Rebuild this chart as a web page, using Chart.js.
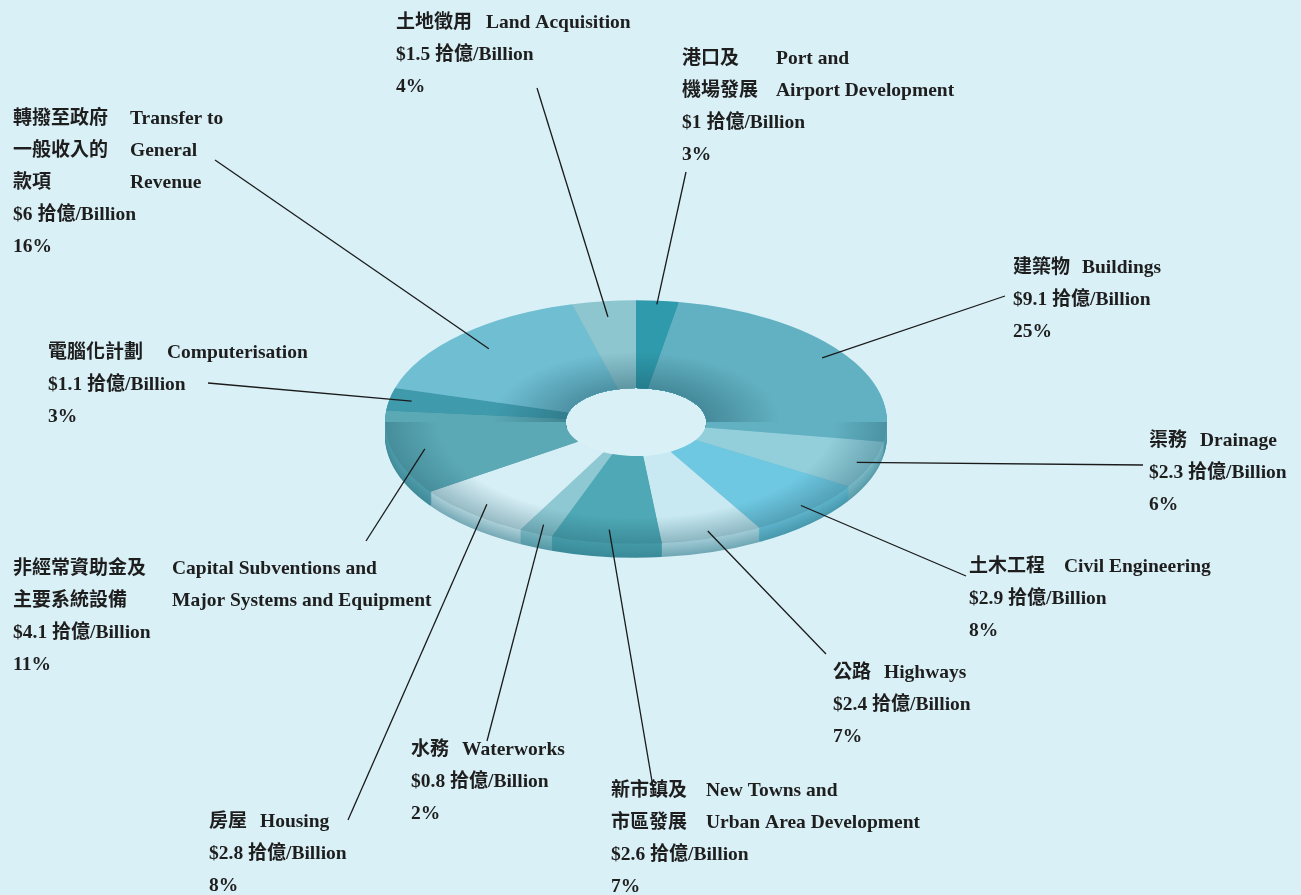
<!DOCTYPE html>
<html>
<head>
<meta charset="utf-8">
<title>Capital Works Expenditure</title>
<style>
  html, body { margin: 0; padding: 0; background: #d9f0f7; }
  #wrap { width: 1301px; height: 895px; position: relative; }
</style>
</head>
<body>
<div id="wrap"><canvas id="worksChart"></canvas></div>
<script src="https://cdn.jsdelivr.net/npm/chart.js@4.4.1/dist/chart.umd.min.js"></script>
<script>
// spending by head, $ billion, clockwise from 12 o'clock
const namesZh = [
  ["港口及", "機場發展"], ["建築物"], ["渠務"], ["土木工程"], ["公路"],
  ["新市鎮及", "市區發展"], ["水務"], ["房屋"], ["非經常資助金及", "主要系統設備"],
  ["電腦化計劃"], ["轉撥至政府", "一般收入的", "款項"], ["土地徵用"]
];
const namesEn = [
  ["Port and", "Airport Development"], ["Buildings"], ["Drainage"], ["Civil Engineering"], ["Highways"],
  ["New Towns and", "Urban Area Development"], ["Waterworks"], ["Housing"],
  ["Capital Subventions and", "Major Systems and Equipment"],
  ["Computerisation"], ["Transfer to", "General", "Revenue"], ["Land Acquisition"]
];
const amounts = [1, 9.1, 2.3, 2.9, 2.4, 2.6, 0.8, 2.8, 4.1, 1.1, 6, 1.5];

const sliceColors = [
  "#2e9aab", "#62b1c2", "#93cfdb", "#6fc8e2", "#c8e9f2", "#4ea8b5",
  "#8ec9d3", "#d6eef5", "#5ca9b6", "#3f9bac", "#70bed2", "#8ec6d0"
];

// label block: x, y of first line, x of English column
const labelPos = [
  [682, 57, 776], [1013, 266, 1082], [1149, 439, 1200], [969, 565, 1064],
  [833, 671, 884], [611, 789, 706], [411, 748, 462], [209, 820, 260],
  [13, 567, 172], [48, 351, 167], [13, 117, 130], [396, 21, 486]
];
// where each leader line leaves its label, and how far into the ring it reaches
const leaderFrom = [
  [686, 172], [1005, 296], [1143, 465], [966, 576], [826, 654], [654, 793],
  [487, 741], [348, 820], [366, 541], [208, 383], [215, 160], [537, 88]
];
const leaderDepth = [0.97, 0.91, 0.94, 0.95, 0.94, 0.89, 0.92, 0.9, 0.87, 0.91, 0.84, 0.87];

const RIM = 14;
const SQUASH = 0.485;
const LINE_GAP = 32;

function mix(hex, toHex, t) {
  const a = parseInt(hex.slice(1), 16), b = parseInt(toHex.slice(1), 16);
  const ch = s => Math.round(((a >> s) & 255) * (1 - t) + ((b >> s) & 255) * t);
  return `rgb(${ch(16)},${ch(8)},${ch(0)})`;
}

function squash(ctx, cx, cy, dy) {
  ctx.translate(cx, cy + dy);
  ctx.scale(1, SQUASH);
  ctx.translate(-cx, -cy);
}

function ringPath(ctx, a) {
  ctx.beginPath();
  ctx.arc(a.x, a.y, a.outerRadius, a.startAngle, a.endAngle);
  ctx.arc(a.x, a.y, a.innerRadius, a.endAngle, a.startAngle, true);
  ctx.closePath();
}

const CJK = /[\u3000-\u9fff\uff00-\uffef]/;
function drawMixed(ctx, str, x, y) {
  let runs = [];
  for (const c of str) {
    const zh = CJK.test(c);
    if (runs.length && runs[runs.length - 1].zh === zh) runs[runs.length - 1].s += c;
    else runs.push({ zh, s: c });
  }
  for (const r of runs) {
    ctx.font = r.zh ? "bold 19px 'Noto Sans CJK TC'" : "bold 19.5px 'Liberation Serif'";
    ctx.fillText(r.s, x, y + 7);
    x += ctx.measureText(r.s).width;
  }
}

const tiltPlugin = {
  id: "tilt",
  beforeDatasetsDraw(chart) {
    const ctx = chart.ctx;
    const arcs = chart.getDatasetMeta(0).data;
    const { x, y, innerRadius: r } = arcs[0];
    // side wall of the ring, built up from darker copies; keep the hole open
    ctx.save();
    ctx.beginPath();
    ctx.rect(0, 0, chart.width, chart.height);
    ctx.ellipse(x, y, r, r * SQUASH, 0, 0, Math.PI * 2);
    ctx.clip("evenodd");
    for (let d = RIM; d > 0; d--) {
      ctx.save();
      squash(ctx, x, y, d);
      arcs.forEach((a, i) => {
        ctx.fillStyle = mix(sliceColors[i], "#2a7383", 0.25 + 0.3 * d / RIM);
        ringPath(ctx, a);
        ctx.fill();
      });
      ctx.restore();
    }
    ctx.restore();
    ctx.save();
    squash(ctx, x, y, 0);
  },
  afterDatasetsDraw(chart) {
    const ctx = chart.ctx;
    const arcs = chart.getDatasetMeta(0).data;
    const { x, y, outerRadius: R, innerRadius: r } = arcs[0];
    // darken the front edge where the top meets the wall
    ctx.save();
    ctx.beginPath();
    ctx.rect(x - R - 5, y, 2 * R + 10, R + 5);
    ctx.clip();
    let g = ctx.createRadialGradient(x, y, r, x, y, R);
    g.addColorStop(0, "rgba(30,90,105,0)");
    g.addColorStop(0.7, "rgba(30,90,105,0)");
    g.addColorStop(1, "rgba(30,90,105,0.35)");
    ctx.fillStyle = g;
    ctx.beginPath();
    ctx.arc(x, y, R, 0, Math.PI * 2);
    ctx.arc(x, y, r, Math.PI * 2, 0, true);
    ctx.fill();
    ctx.restore();
    // shadow round the far side of the hole
    ctx.save();
    ctx.beginPath();
    ctx.rect(x - R - 5, y - R - 5, 2 * R + 10, R + 5);
    ctx.clip();
    g = ctx.createRadialGradient(x, y, r, x, y, r + 75);
    g.addColorStop(0, "rgba(25,80,95,0.4)");
    g.addColorStop(1, "rgba(25,80,95,0)");
    ctx.fillStyle = g;
    ctx.beginPath();
    ctx.arc(x, y, r + 75, 0, Math.PI * 2);
    ctx.arc(x, y, r, Math.PI * 2, 0, true);
    ctx.fill();
    ctx.restore();
    ctx.restore();
  },
  afterDraw(chart) {
    const ctx = chart.ctx;
    const arcs = chart.getDatasetMeta(0).data;
    const total = amounts.reduce((s, v) => s + v, 0);
    ctx.save();
    ctx.strokeStyle = "#1a1a1a";
    ctx.lineWidth = 1.3;
    arcs.forEach((a, i) => {
      const mid = (a.startAngle + a.endAngle) / 2;
      const rr = a.outerRadius * leaderDepth[i];
      ctx.beginPath();
      ctx.moveTo(leaderFrom[i][0], leaderFrom[i][1]);
      ctx.lineTo(a.x + rr * Math.cos(mid), a.y + rr * Math.sin(mid) * SQUASH);
      ctx.stroke();
    });
    ctx.fillStyle = "#1e1e1e";
    ctx.textBaseline = "alphabetic";
    amounts.forEach((v, i) => {
      const [lx, ly, ex] = labelPos[i];
      const rows = Math.max(namesZh[i].length, namesEn[i].length);
      for (let k = 0; k < rows; k++) {
        const yy = ly + k * LINE_GAP;
        if (namesZh[i][k]) drawMixed(ctx, namesZh[i][k], lx, yy);
        if (namesEn[i][k]) drawMixed(ctx, namesEn[i][k], ex, yy);
      }
      drawMixed(ctx, "$" + v + " 拾億/Billion", lx, ly + rows * LINE_GAP);
      drawMixed(ctx, Math.round(v / total * 100) + "%", lx, ly + (rows + 1) * LINE_GAP);
    });
    ctx.restore();
  }
};

new Chart(document.getElementById("worksChart"), {
  type: "doughnut",
  data: {
    labels: namesEn.map(n => n.join(" ")),
    datasets: [{
      data: amounts,
      backgroundColor: sliceColors,
      borderWidth: 0,
      clip: false
    }]
  },
  options: {
    responsive: true,
    maintainAspectRatio: false,
    animation: false,
    events: [],
    cutout: "28%",
    layout: { padding: { left: 385, right: 414, top: 171, bottom: 222 } },
    plugins: { legend: { display: false }, tooltip: { enabled: false } }
  },
  plugins: [tiltPlugin]
});
</script>
</body>
</html>
